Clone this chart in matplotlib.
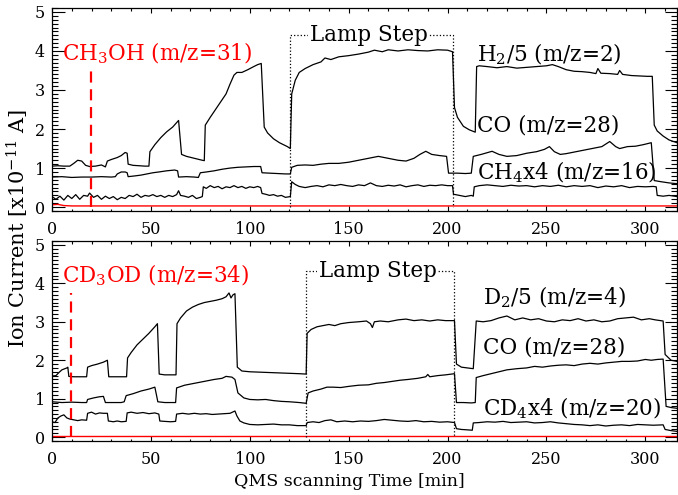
import matplotlib
matplotlib.use('Agg')
import matplotlib.pyplot as plt
from matplotlib.ticker import MultipleLocator

plt.rcParams['font.family'] = ['DejaVu Serif']
plt.rcParams['mathtext.fontset'] = 'dejavuserif'

# ---------------- top panel (CH3OH) ----------------
h2_t = [0, 3, 6, 9, 11, 13, 15, 17, 19, 22, 25, 27, 28, 30, 33, 35, 37, 38, 38.5, 41, 44, 47, 49,
        49.5, 52, 55, 58, 61, 64, 65.5, 68, 72, 76, 77, 77.5, 80, 84, 88, 90, 92, 93.5, 96, 99, 102,
        104, 105.8, 107.3, 109, 112, 115, 117, 119, 120.5, 121.2, 123, 125, 128, 132, 136, 138, 141,
        145, 150, 155, 160, 163, 167, 170, 175, 180, 185, 190, 195, 200, 202.5, 203.5, 205, 208, 211,
        214, 214.7, 216, 220, 225, 230, 235, 240, 245, 250, 253, 256, 260, 264, 268, 272, 275, 276,
        277.5, 282, 286, 287, 288.5, 293, 297, 301, 303.5, 304.5, 306, 309, 312, 316]
h2_y = [1.05, 1.06, 1.05, 1.05, 1.12, 1.2, 1.18, 1.07, 1.04, 1.05, 1.08, 1.03, 1.18, 1.22, 1.27, 1.32,
        1.4, 1.38, 1.1, 1.07, 1.06, 1.05, 1.05,
        1.42, 1.6, 1.78, 1.93, 2.05, 2.22, 1.35, 1.3, 1.25, 1.2, 1.19, 2.1, 2.3, 2.6, 2.9, 3.15, 3.38,
        3.45, 3.45, 3.52, 3.6,
        3.65, 3.68, 2.05, 1.9, 1.75, 1.65, 1.6, 1.55, 1.5, 2.9, 3.25, 3.45, 3.55, 3.65, 3.72, 3.82, 3.78,
        3.85, 3.88, 3.92, 3.97, 4.02, 3.98, 4.03, 4.0, 4.03, 4.01, 4.0, 4.03, 4.02, 3.98, 2.55, 2.3, 2.07,
        1.98,
        1.92, 3.6, 3.62, 3.6, 3.57, 3.6, 3.56, 3.58, 3.6, 3.62, 3.65, 3.6, 3.52, 3.48, 3.47, 3.45, 3.42,
        3.55,
        3.43, 3.42, 3.4, 3.5, 3.4, 3.37, 3.36, 3.35, 3.35, 2.1, 1.95, 1.82, 1.72, 1.65]

co1_t = [0, 5, 10, 15, 20, 25, 30, 32, 33, 35, 37, 38, 38.5, 42, 45, 48, 51, 54, 58, 62, 63.5, 64, 68,
         72, 74, 75, 78, 82, 86, 90, 94, 98, 102, 105.5, 106.2, 110, 114, 118, 120.5, 121.2, 124, 128,
         132, 136, 140, 145, 150, 155, 160, 165, 170, 175, 179, 183, 186, 189, 192, 196, 199.5, 200.5,
         205, 209, 212, 213, 217, 222.5, 226, 230, 235, 240, 245, 249, 251.5, 254, 257, 260, 263, 268,
         273, 278, 282, 285, 287, 291, 295, 299, 303, 304.5, 308, 312, 316]
co1_y = [0.77, 0.78, 0.76, 0.77, 0.77, 0.78, 0.77, 0.78, 0.85, 0.9, 0.9, 0.88, 0.78, 0.8, 0.82, 0.85,
         0.88, 0.9, 0.93, 0.95, 0.93, 0.77, 0.78,
         0.77, 0.76, 0.88, 0.9, 0.93, 0.97, 1.0, 1.02, 1.03, 1.04, 1.04, 0.88, 0.87, 0.86, 0.85, 0.85,
         1.02, 1.07, 1.08,
         1.07, 1.1, 1.12, 1.12, 1.15, 1.2, 1.25, 1.3, 1.25, 1.2, 1.18, 1.25, 1.35, 1.43, 1.35, 1.32, 1.3,
         0.87,
         0.87, 0.86, 0.87, 1.3, 1.35, 1.43, 1.35, 1.3, 1.32, 1.38, 1.42, 1.48, 1.55, 1.42, 1.35, 1.37,
         1.4, 1.45,
         1.5, 1.55, 1.68, 1.55, 1.5, 1.55, 1.56, 1.6, 1.65, 0.68, 0.65, 0.62, 0.6]

ch4_t = [0, 2, 4, 6, 8, 10, 12, 14, 16, 18, 19, 21, 23, 25, 27, 29, 31, 33, 35, 37, 39, 41, 43, 45, 47,
         49, 51, 53, 55, 57, 59, 61, 63, 64, 65, 67, 69, 71, 73, 75, 76, 76.5, 78, 80, 82, 84, 86, 88,
         90, 92, 94, 96, 98, 100, 102, 104, 105.5, 106.2, 108, 110, 112, 114, 116, 118, 120.5, 121.2,
         123, 125, 128, 131, 134, 137, 140, 143, 146, 149, 152, 155, 158, 161, 164, 167, 170, 173, 176,
         179, 182, 185, 188, 191, 194, 197, 200, 202.5, 203, 206, 209, 212, 213, 213.5, 216, 220, 224,
         228, 232, 236, 240, 244, 248, 252, 256, 260, 264, 268, 272, 276, 280, 284, 288, 292, 296, 300,
         304, 305.5, 306, 309, 312, 316]
ch4_y = [0.27, 0.2, 0.28, 0.18, 0.3, 0.22, 0.32, 0.2, 0.3, 0.28, 0.36, 0.25, 0.3, 0.2, 0.28, 0.22, 0.27,
         0.19, 0.25, 0.22, 0.3, 0.27, 0.33, 0.25, 0.3,
         0.28, 0.32, 0.27, 0.3, 0.25, 0.3, 0.27, 0.32, 0.42, 0.3, 0.28, 0.25, 0.3, 0.22, 0.25, 0.27, 0.52,
         0.48, 0.55, 0.5, 0.53, 0.47, 0.52,
         0.5, 0.55, 0.5, 0.53, 0.48, 0.52, 0.5, 0.53, 0.5, 0.35, 0.33, 0.3, 0.32, 0.28, 0.3, 0.25, 0.27,
         0.65,
         0.58, 0.53, 0.5, 0.53, 0.55, 0.52, 0.57, 0.55, 0.58, 0.55, 0.53, 0.57, 0.55, 0.62, 0.55, 0.53,
         0.56, 0.54, 0.57,
         0.52, 0.55, 0.57, 0.53, 0.56, 0.55, 0.57, 0.55, 0.55, 0.33, 0.3, 0.27, 0.3, 0.28, 0.52, 0.55,
         0.57, 0.55,
         0.53, 0.56, 0.54, 0.55, 0.52, 0.55, 0.53, 0.56, 0.52, 0.55, 0.53, 0.55, 0.5, 0.54, 0.52, 0.55,
         0.5, 0.53, 0.52,
         0.53, 0.52, 0.3, 0.28, 0.3, 0.27]

m31_t = [0, 3, 6, 10, 100, 200, 316]
m31_y = [0.06, 0.07, 0.04, 0.03, 0.03, 0.03, 0.03]

# ---------------- bottom panel (CD3OD) ----------------
d2_t = [0, 2, 3.5, 5, 7.5, 8, 8.5, 11, 14, 17.5, 18, 20, 23, 26, 28, 28.7, 32, 35, 37.7, 38.2, 40, 43,
        46, 49, 52, 53.3, 54.2, 57, 60, 62.7, 63.2, 65, 68, 71, 74, 77, 80, 83, 86, 88, 89.5, 90.5,
        91.5, 92.5, 93.7, 96, 100, 105, 110, 115, 120, 125, 128.5, 129, 131, 134, 137, 140, 143, 146,
        150, 155, 159, 161, 162, 163, 166, 170, 175, 179, 183, 187, 191, 195, 199, 203.5, 204.5, 207,
        210, 213, 214.5, 218, 222, 226, 230, 234, 238, 242, 246, 250, 254, 258, 262, 266, 270, 274,
        278, 282, 286, 290, 294, 298, 302, 305, 309, 310, 313, 316]
d2_y = [1.59, 1.6, 1.68, 1.75, 1.8, 1.82, 1.58, 1.57, 1.57, 1.57, 1.82, 1.86, 1.9, 1.95, 2.0, 1.57,
        1.57, 1.57, 1.57, 2.06, 2.2, 2.4,
        2.55, 2.7, 2.87, 2.95, 1.64, 1.62, 1.62, 1.62, 2.95, 3.1, 3.28, 3.38, 3.45, 3.5, 3.53, 3.56,
        3.6, 3.65, 3.75, 3.62,
        3.7, 3.73, 1.82, 1.72, 1.7, 1.69, 1.68, 1.67, 1.66, 1.65, 1.64, 2.7, 2.8, 2.87, 2.9, 2.93, 2.9,
        2.95,
        2.98, 3.0, 3.02, 2.95, 2.85, 3.0, 3.02, 3.0, 3.05, 3.07, 3.03, 3.05, 3.02, 3.05, 3.03, 3.03,
        1.9, 1.82,
        1.8, 1.78, 3.02, 3.0, 3.03, 3.1, 3.15, 3.05, 3.1, 3.05, 3.08, 3.02, 3.0, 3.05, 3.03, 3.08, 3.02,
        3.05,
        3.0, 3.02, 3.08, 3.1, 3.12, 3.05, 3.08, 3.05, 3.02, 2.15, 2.0, 1.97]

co2_t = [0, 5, 10, 15, 17.5, 18, 21, 24, 26, 27, 31, 35, 36.5, 37.5, 41, 45, 49, 52, 53, 53.5, 57, 61,
         62.5, 63, 67, 72, 77, 82, 86, 88, 91, 92.5, 94, 97, 100, 104, 108, 112, 116, 120, 125, 128.5,
         129.5, 132, 136, 139, 142, 146, 150, 155, 160, 164, 168, 172, 176, 180, 185, 189, 190, 191,
         195, 199, 203.5, 204.5, 208, 212, 214, 214.5, 218, 222, 226, 230, 235, 240, 244, 248, 252,
         256, 260, 264, 268, 272, 276, 280, 284, 288, 292, 296, 300, 303, 306, 309, 310.5, 313, 316]
co2_y = [0.92, 0.9, 0.91, 0.9, 0.9, 0.98, 1.02, 1.05, 1.06, 0.9, 0.9, 0.9, 0.92, 1.08, 1.13, 1.2, 1.25,
         1.3, 1.05, 0.92, 0.9, 0.9,
         0.9, 1.28, 1.35, 1.4, 1.45, 1.5, 1.53, 1.58, 1.56, 1.5, 1.15, 1.02, 0.98, 0.97, 0.98, 0.95,
         0.93, 0.92, 0.9, 0.88,
         1.15, 1.2, 1.25, 1.3, 1.3, 1.29, 1.32, 1.35, 1.36, 1.4, 1.42, 1.45, 1.48, 1.5, 1.53, 1.57, 1.63,
         1.57,
         1.6, 1.62, 1.65, 0.9, 0.9, 0.89, 0.9, 1.55, 1.6, 1.65, 1.7, 1.75, 1.78, 1.8, 1.84, 1.82, 1.85,
         1.87, 1.88, 1.86, 1.9, 1.92, 1.9, 1.93, 1.95, 1.97, 1.97, 1.98, 2.02, 2.0, 2.02, 2.03, 0.8,
         0.77, 0.75]

cd4_t = [0, 1.5, 3, 4.5, 6, 7.5, 9, 11, 13, 15, 17.5, 18, 20, 22, 24, 26, 28, 28.5, 31, 33, 35, 37.5,
         38, 40, 43, 46, 49, 52, 54, 54.5, 57, 60, 62.5, 63, 66, 69, 72, 75, 78, 81, 84, 87, 90, 92.5,
         93.5, 95, 97, 100, 104, 108, 112, 116, 120, 124, 128.5, 129, 132, 135, 138, 141, 144, 148,
         152, 156, 160, 164, 168, 172, 176, 180, 184, 188, 192, 196, 200, 203.5, 204.5, 207, 210,
         212.5, 213, 216, 220, 224, 228, 232, 236, 240, 244, 248, 252, 256, 260, 264, 268, 272, 276,
         280, 284, 288, 292, 296, 300, 304, 309, 310, 313, 316]
cd4_y = [0.4, 0.38, 0.5, 0.55, 0.58, 0.5, 0.47, 0.45, 0.43, 0.45, 0.44, 0.62, 0.65, 0.6, 0.63, 0.62,
         0.62, 0.42, 0.4, 0.42, 0.4, 0.41,
         0.63, 0.65, 0.62, 0.64, 0.61, 0.63, 0.6, 0.42, 0.41, 0.4, 0.41, 0.6, 0.62, 0.6, 0.62, 0.6, 0.61,
         0.59, 0.6, 0.61, 0.62, 0.68,
         0.55, 0.42, 0.37, 0.33, 0.32, 0.33, 0.34, 0.32, 0.32, 0.3, 0.3, 0.38, 0.4, 0.38, 0.43, 0.45,
         0.4, 0.42,
         0.4, 0.42, 0.41, 0.43, 0.46, 0.44, 0.42, 0.41, 0.43, 0.4, 0.41, 0.39, 0.4, 0.38, 0.22, 0.2,
         0.19,
         0.18, 0.37, 0.38, 0.4, 0.39, 0.41, 0.38, 0.39, 0.4, 0.37, 0.38, 0.4, 0.37, 0.35, 0.33, 0.32,
         0.3, 0.32,
         0.29, 0.31, 0.32, 0.3, 0.33, 0.32, 0.31, 0.32, 0.2, 0.17, 0.15]

m34_t = [0, 100, 200, 316]
m34_y = [0.03, 0.03, 0.03, 0.03]

# lamp on/off times, dosing start, box height
lamp1 = (120.5, 202.9, 4.42)
lamp2 = (128.6, 203.5, 4.33)
dose1 = (19.5, 3.6)
dose2 = (9.4, 3.75)

fig = plt.figure(figsize=(6.78, 4.95), dpi=100)
ax1 = fig.add_axes([0.0767, 0.5737, 0.9218, 0.4101])
ax2 = fig.add_axes([0.0767, 0.1091, 0.9218, 0.404])

lw = 0.9
fs = 15.5
for ax in (ax1, ax2):
    ax.set_xlim(0, 316)
    ax.set_ylim(-0.1, 5.1)
    ax.xaxis.set_major_locator(MultipleLocator(50))
    ax.xaxis.set_minor_locator(MultipleLocator(10))
    ax.yaxis.set_major_locator(MultipleLocator(1))
    ax.yaxis.set_minor_locator(MultipleLocator(0.1))
    ax.tick_params(axis='both', which='both', direction='in', top=True, right=True,
                   labelsize=11.5, width=0.8, colors='black')
    ax.tick_params(axis='x', which='major', length=3.5, pad=7)
    ax.tick_params(axis='x', which='minor', length=1.8)
    ax.tick_params(axis='y', which='major', length=9)
    ax.tick_params(axis='y', which='minor', length=4.5)
    ax.tick_params(axis='y', pad=5)
    for s in ax.spines.values():
        s.set_linewidth(0.9)

# top
ax1.plot(h2_t, h2_y, color='black', lw=lw)
ax1.plot(co1_t, co1_y, color='black', lw=lw)
ax1.plot(ch4_t, ch4_y, color='black', lw=lw)
ax1.plot(m31_t, m31_y, color='red', lw=1.0)
ax1.plot([dose1[0], dose1[0]], [0, dose1[1]], color='red', lw=1.6, ls=(0, (5, 3)))
ax1.plot([lamp1[0], lamp1[0], lamp1[1], lamp1[1]], [0, lamp1[2], lamp1[2], 0],
         color='black', lw=0.9, ls=':')
ax1.text(160, lamp1[2], 'Lamp Step', fontsize=fs, ha='center', va='center',
         bbox=dict(facecolor='white', edgecolor='none', pad=1))
ax1.text(5, 3.93, 'CH$_3$OH (m/z=31)', color='red', fontsize=fs, va='center')
ax1.text(215, 3.9, 'H$_2$/5 (m/z=2)', fontsize=fs, va='center')
ax1.text(215, 2.1, 'CO (m/z=28)', fontsize=fs, va='center')
ax1.text(215, 0.9, 'CH$_4$x4 (m/z=16)', fontsize=fs, va='center')

# bottom
ax2.plot(d2_t, d2_y, color='black', lw=lw)
ax2.plot(co2_t, co2_y, color='black', lw=lw)
ax2.plot(cd4_t, cd4_y, color='black', lw=lw)
ax2.plot(m34_t, m34_y, color='red', lw=1.0)
ax2.plot([dose2[0], dose2[0]], [0, dose2[1]], color='red', lw=1.6, ls=(0, (5, 3)))
ax2.plot([lamp2[0], lamp2[0], lamp2[1], lamp2[1]], [0, lamp2[2], lamp2[2], 0],
         color='black', lw=0.9, ls=':')
ax2.text(164.6, lamp2[2], 'Lamp Step', fontsize=fs, ha='center', va='center',
         bbox=dict(facecolor='white', edgecolor='none', pad=1))
ax2.text(5, 4.2, 'CD$_3$OD (m/z=34)', color='red', fontsize=fs, va='center')
ax2.text(217.7, 3.64, 'D$_2$/5 (m/z=4)', fontsize=fs, va='center')
ax2.text(217.7, 2.32, 'CO (m/z=28)', fontsize=fs, va='center')
ax2.text(217.7, 0.74, 'CD$_4$x4 (m/z=20)', fontsize=fs, va='center')

fig.text(0.027, 0.539, 'Ion Current [x10$^{-11}$ A]', rotation=90, fontsize=15,
         ha='center', va='center')
fig.text(0.515, 0.028, 'QMS scanning Time [min]', fontsize=12.5, ha='center', va='center')

fig.savefig('out.png', dpi=100)
